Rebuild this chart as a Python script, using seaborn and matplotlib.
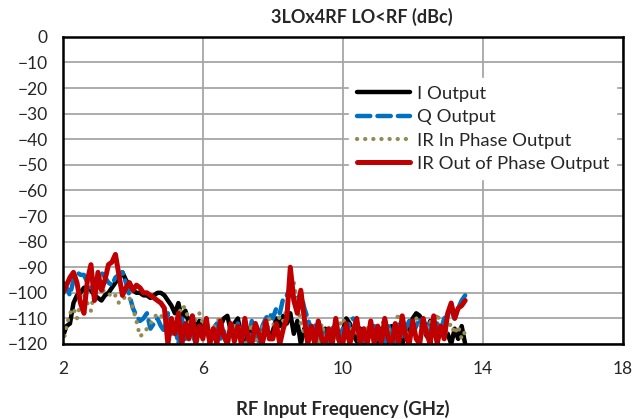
import numpy as np
import pandas as pd
import matplotlib
matplotlib.use("Agg")
import matplotlib.pyplot as plt
import seaborn as sns

# frequency grid (GHz), 0.1 GHz steps from 2.0 to 13.5
freq = np.round(np.arange(2.0, 13.55, 0.1), 1)

i_output = [
    -117, -113, -112, -104, -101, -100, -98, -98, -99, -101,
    -102, -103, -101, -100, -98, -96, -94, -92, -95, -97,
    -99, -100, -100, -101, -101, -102, -101, -100, -100, -101,
    -103, -105, -108, -104, -110, -107, -112, -109, -114, -111,
    -116, -112, -118, -114, -117, -113, -110, -109, -115, -112,
    -110, -117, -120, -114, -118, -112, -116, -120, -113, -117,
    -115, -110, -113, -109, -112, -108, -116, -111, -120, -114,
    -118, -113, -120, -116, -119, -114, -120, -117, -113, -118,
    -115, -110, -112, -116, -119, -114, -120, -117, -113, -118,
    -119, -114, -117, -120, -113, -118, -115, -120, -116, -114,
    -110, -108, -109, -113, -117, -111, -115, -119, -114, -117,
    -116, -120, -114, -118, -113, -120,
]

q_output = [
    -96, -98, -101, -95, -92, -93, -93, -96, -98, -97,
    -95, -92, -94, -96, -97, -94, -93, -92, -96, -101,
    -106, -109, -111, -110, -108, -114, -112, -110, -113, -115,
    -108, -116, -113, -120, -110, -118, -113, -116, -120, -112,
    -117, -111, -119, -114, -112, -118, -115, -120, -113, -117,
    -112, -118, -114, -120, -111, -116, -119, -113, -110, -108,
    -110, -106, -108, -102, -101, -98, -100, -103, -100, -106,
    -110, -115, -112, -118, -114, -117, -120, -113, -116, -119,
    -114, -118, -111, -110, -112, -116, -119, -115, -117, -113,
    -118, -115, -120, -113, -116, -119, -112, -117, -114, -111,
    -116, -113, -110, -114, -111, -117, -113, -112, -115, -110,
    -109, -107, -110, -106, -103, -101,
]

ir_in_phase = [
    -120, -113, -108, -106, -110, -104, -101, -104, -107, -99,
    -98, -98, -100, -100, -102, -101, -104, -103, -101, -102,
    -106, -111, -117, -116, -114, -112, -110, -108, -109, -110,
    -112, -110, -113, -109, -105, -106, -111, -114, -110, -108,
    -112, -116, -118, -114, -111, -110, -117, -120, -115, -113,
    -118, -114, -120, -116, -112, -119, -117, -113, -118, -110,
    -112, -114, -109, -111, -106, -99, -96, -104, -112, -116,
    -113, -118, -115, -120, -112, -117, -114, -119, -116, -113,
    -110, -113, -117, -112, -115, -120, -116, -113, -118, -114,
    -116, -113, -110, -114, -118, -112, -108, -111, -115, -117,
    -113, -110, -112, -116, -114, -111, -115, -108, -113, -117,
    -114, -112, -116, -113, -118, -115,
]

ir_out_phase = [
    -100, -97, -94, -92, -96, -104, -108, -95, -89, -103,
    -92, -99, -95, -89, -88, -85, -93, -101, -98, -96,
    -99, -97, -98, -100, -100, -101, -102, -103, -104, -106,
    -120, -110, -116, -108, -120, -112, -118, -109, -120, -113,
    -118, -110, -120, -114, -120, -111, -117, -120, -112, -119,
    -113, -120, -110, -118, -120, -112, -116, -120, -111, -118,
    -118, -112, -120, -114, -110, -90, -103, -108, -99, -110,
    -120, -113, -120, -111, -118, -120, -114, -120, -110, -119,
    -120, -112, -120, -115, -110, -120, -114, -120, -111, -120,
    -113, -120, -110, -118, -120, -112, -120, -109, -117, -120,
    -111, -118, -120, -110, -116, -120, -109, -120, -113, -118,
    -108, -104, -110, -106, -105, -103,
]

series_names = ["I Output", "Q Output", "IR In Phase Output", "IR Out of Phase Output"]
series_vals = [i_output, q_output, ir_in_phase, ir_out_phase]
colors = ["#000000", "#0070C0", "#948A54", "#C00000"]
styles = ["-", (0, (3, 1.6)), (0, (0.05, 1.9)), "-"]
widths = [3.2, 3.2, 3.0, 3.6]

sns.set_style("white")
plt.rcParams["font.family"] = ["Lato", "DejaVu Sans"]

fig = plt.figure(figsize=(6.33, 4.19), dpi=100)
ax = fig.add_axes([0.0995, 0.179, 0.884, 0.733])

for name, vals, c, ls, lw in zip(series_names, series_vals, colors, styles, widths):
    sns.lineplot(x=freq, y=vals, ax=ax, color=c, linestyle=ls, linewidth=lw,
                 label=name, solid_capstyle="round", dash_capstyle="round")

ax.set_xlim(2, 18)
ax.set_ylim(-120, 0)
ax.set_xticks([2, 6, 10, 14, 18])
ax.set_yticks(range(-120, 1, 10))
ax.grid(True, color="#A6A6A6", linewidth=1.3)
ax.set_axisbelow(True)
for sp in ax.spines.values():
    sp.set_color("black")
    sp.set_linewidth(1.8)
ax.tick_params(axis="both", length=0, labelsize=12.5)
ax.tick_params(axis="x", pad=12)
ax.tick_params(axis="y", pad=11)

ax.set_title("3LOx4RF LO<RF (dBc)", fontsize=13, fontweight="bold", pad=10, x=0.534)
ax.set_xlabel("RF Input Frequency (GHz)", fontsize=13.3, fontweight="bold", labelpad=17)
ax.set_ylabel("")

leg = ax.legend(loc="upper left", bbox_to_anchor=(0.512, 0.865), frameon=True,
                fontsize=13.3, handlelength=2.9, labelspacing=0.4,
                borderaxespad=0, handletextpad=0.33)
leg.get_frame().set_facecolor("white")
leg.get_frame().set_edgecolor("white")
leg.get_frame().set_alpha(1.0)

fig.savefig("out.png", dpi=100)
